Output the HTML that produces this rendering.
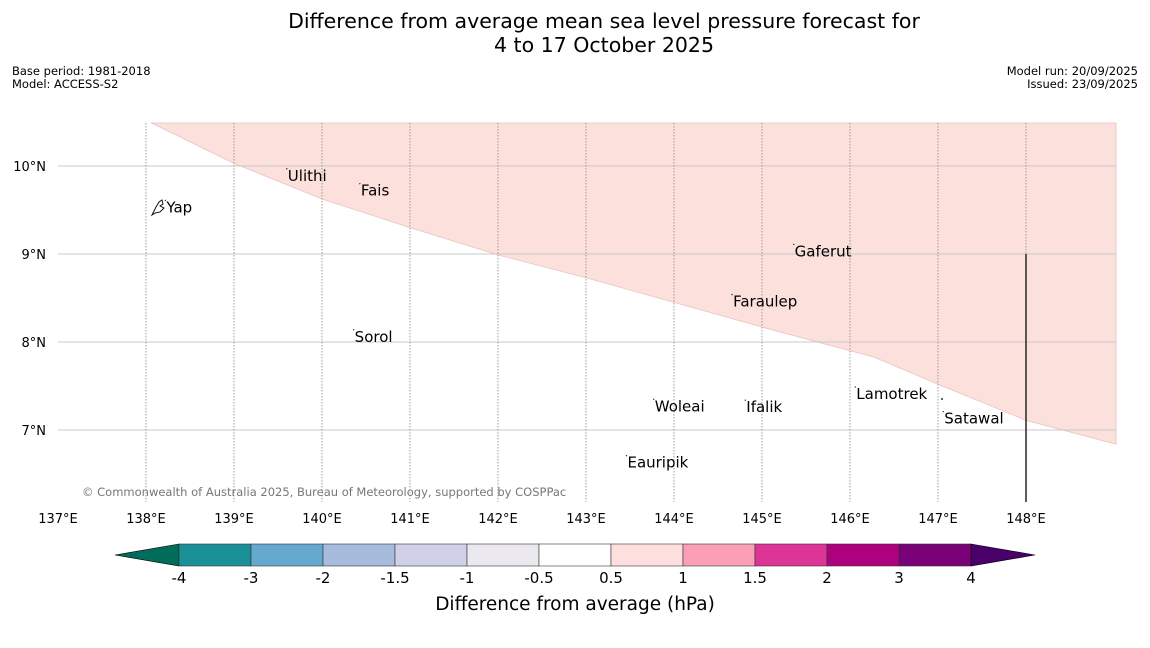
<!DOCTYPE html>
<html><head><meta charset="utf-8"><style>
body{margin:0;background:#fff;font-family:"DejaVu Sans","Liberation Sans",sans-serif;}
svg text{font-family:"DejaVu Sans","Liberation Sans",sans-serif;}
</style></head><body>
<svg id="chart" width="1150" height="644" xmlns="http://www.w3.org/2000/svg">
<text x="604" y="28" font-size="20.5" text-anchor="middle">Difference from average mean sea level pressure forecast for</text>
<text x="604" y="52" font-size="20.5" text-anchor="middle">4 to 17 October 2025</text>
<text x="12" y="75" font-size="11.5">Base period: 1981-2018</text>
<text x="12" y="88" font-size="11.5">Model: ACCESS-S2</text>
<text x="1138" y="75" font-size="11.5" text-anchor="end">Model run: 20/09/2025</text>
<text x="1138" y="88" font-size="11.5" text-anchor="end">Issued: 23/09/2025</text>
<g id="map"></g>
<path d="M152,215 L156,207 L159,202 L162,200 L163,204 L160,206 L164,208 L160,212 L155,213 Z" fill="none" stroke="#000" stroke-width="0.9"/>
<circle cx="942" cy="399" r="1" fill="#333"/>
<g id="cbar"></g>
<text x="575" y="610" font-size="18.5" text-anchor="middle">Difference from average (hPa)</text>
</svg>
<script>
const lonTicks=[137,138,139,140,141,142,143,144,145,146,147,148];
const latTicks=[7,8,9,10];
const anomalyLon=[138.06,139,140,141,142,143,144,145,146,146.27,147,148,149.02];
const anomalyLat=[10.49,10.03,9.625,9.30,8.99,8.73,8.45,8.17,7.90,7.83,7.52,7.11,6.84];
const islandNames=["Yap","Ulithi","Fais","Gaferut","Faraulep","Sorol","Woleai","Ifalik","Lamotrek","Satawal","Eauripik"];
const islandLon=[138.22,139.6,140.43,145.36,144.66,140.36,143.77,144.81,146.06,147.06,143.46];
const islandLat=[9.62,9.98,9.81,9.12,8.55,8.15,7.36,7.35,7.5,7.22,6.72];
const cbLevels=["-4","-3","-2","-1.5","-1","-0.5","0.5","1","1.5","2","3","4"];
const cbColors=["#1b9097","#65a8d0","#a6bcdc","#d0d1e8","#ebe9ef","#ffffff","#fde0dd","#fa9fb5","#dd3497","#ae017e","#7a0177"];
const NS="http://www.w3.org/2000/svg";
const xs=lon=>58+(lon-137)*88, ys=lat=>166-(lat-10)*88;
const plotTop=123,plotBot=502,plotRight=1116;
function mk(p,t,a){const e=document.createElementNS(NS,t);for(const k in a)e.setAttribute(k,a[k]);p.appendChild(e);return e;}
const map=document.getElementById('map');
let d="M"+xs(anomalyLon[0])+","+plotTop;
anomalyLon.forEach((l,i)=>d+=" L"+xs(l)+","+ys(anomalyLat[i]));
d+=" L"+plotRight+","+ys(anomalyLat[anomalyLat.length-1])+" L"+plotRight+","+plotTop+" Z";
const poly=mk(map,'path',{d:d,fill:'#fce0dc',stroke:'#e8c4c0','stroke-width':0.8});


latTicks.forEach(l=>{
 const g=mk(map,'line',{x1:58,x2:plotRight,y1:ys(l),y2:ys(l),stroke:'#c8c8c8','stroke-width':1});
 
 
 const t=mk(map,'text',{x:46,y:ys(l)+5,'font-size':13,'text-anchor':'end'});t.textContent=l+"°N";
 
 
});
lonTicks.forEach(l=>{
 if(l>137){const g=mk(map,'line',{x1:xs(l),x2:xs(l),y1:plotTop,y2:plotBot,stroke:'#888','stroke-width':0.8,'stroke-dasharray':'1.5,1.5'});
 
 }
 const t=mk(map,'text',{x:xs(l),y:523,'font-size':13,'text-anchor':'middle'});t.textContent=l+"°E";
 
 
});
const vl=mk(map,'line',{x1:xs(148),x2:xs(148),y1:ys(9),y2:plotBot,stroke:'#333','stroke-width':1.6});


islandNames.forEach((n,i)=>{
 const t=mk(map,'text',{x:xs(islandLon[i])+1,y:ys(islandLat[i])+13,'font-size':15});t.textContent=n;
 
 
 const c=mk(map,'circle',{cx:xs(islandLon[i]),cy:ys(islandLat[i])+1,r:0.7,fill:'#333'});
 
 
});
const cr=mk(map,'text',{x:82,y:496,'font-size':11.5,fill:'#777'});cr.textContent="© Commonwealth of Australia 2025, Bureau of Meteorology, supported by COSPPac";


const cb=document.getElementById('cbar');
const cx0=179,cw=72,cy0=544,ch=22;
const lt=mk(cb,'polygon',{points:`${cx0},${cy0} 115,${cy0+ch/2} ${cx0},${cy0+ch}`,fill:'#016c59',stroke:'#000','stroke-width':0.6});


cbColors.forEach((c,i)=>{
 const r=mk(cb,'rect',{x:cx0+i*cw,y:cy0,width:cw,height:ch,fill:c,stroke:'#333','stroke-width':0.6});
 
 
});
const xe=cx0+cbColors.length*cw;
const rt=mk(cb,'polygon',{points:`${xe},${cy0} 1035,${cy0+ch/2} ${xe},${cy0+ch}`,fill:'#49006a',stroke:'#000','stroke-width':0.6});


cbLevels.forEach((v,i)=>{
 const t=mk(cb,'text',{x:cx0+i*cw,y:583,'font-size':15,'text-anchor':'middle'});t.textContent=v;
 
 
});
</script>
</body></html>
